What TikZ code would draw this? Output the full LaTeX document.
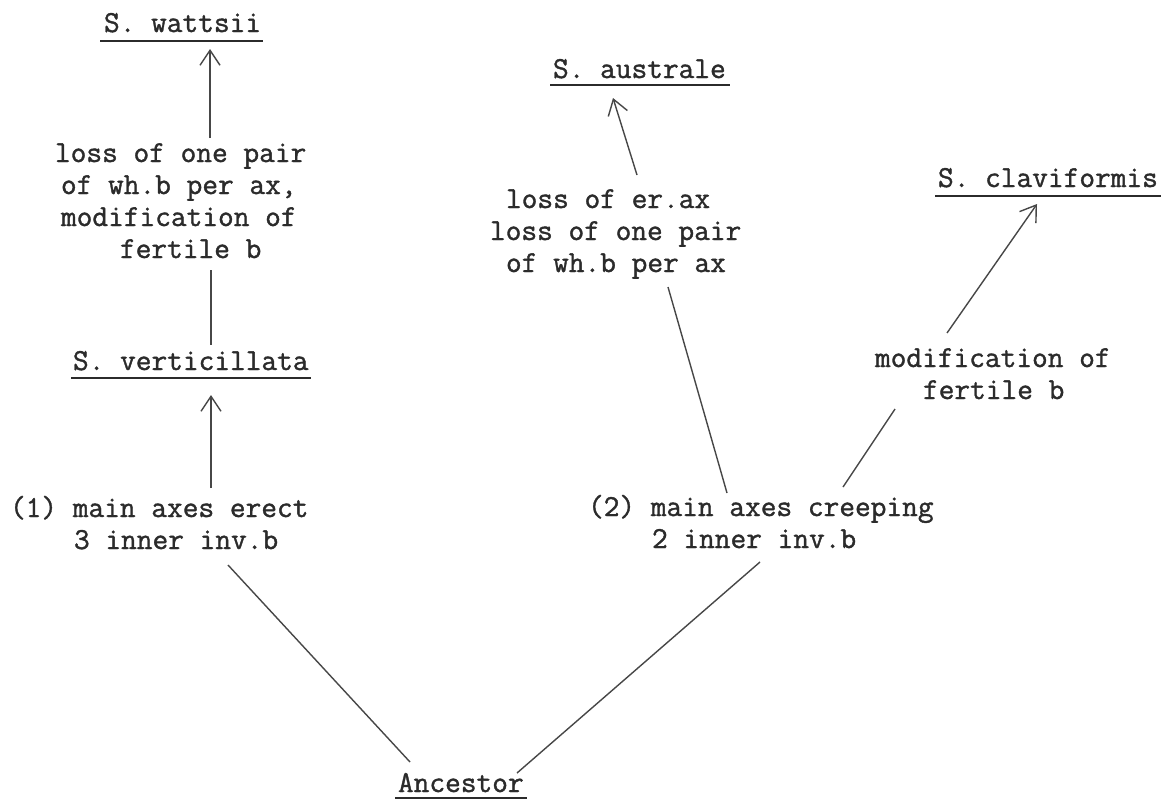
\documentclass[tikz,border=0pt]{standalone}
\usepackage{fontspec}
\newfontfamily\typew{Latin Modern Mono}[FakeBold=1.2]
\usetikzlibrary{arrows.meta}
\definecolor{ink}{HTML}{2B2B2B}
\definecolor{pen}{HTML}{474747}
\newcommand\tstrut{\rule{0pt}{24pt}}
\begin{document}
\begin{tikzpicture}[x=1pt,y=-1pt,
  txt/.style={inner sep=0pt, outer sep=0pt, anchor=north west, align=left, text=ink,
    font=\fontsize{30.5}{32}\selectfont\typew},
  con/.style={draw=pen, line width=1.4pt},
  arr/.style={con, -{Straight Barb[length=15pt,width=20pt,line width=1.4pt]}},
  ul/.style={draw=ink, line width=2.6pt}]
\useasboundingbox[fill=white] (0,0) rectangle (1169,801);

% text nodes (top = baseline - 24)
\node[txt] (wat) at (104,8) {\tstrut S. wattsii};
\node[txt] (lossA) at (55,138) {\tstrut loss of one pair\\\hspace*{6pt}of wh.b per ax,\\\hspace*{6pt}modification of\\\hspace*{65pt}fertile b};
\node[txt] (ver) at (73,346) {\tstrut S. verticillata};
\node[txt] (one) at (10,493) {\tstrut (1) main axes erect\\\hspace*{64pt}3 inner inv.b};
\node[txt] (anc) at (398,768) {\tstrut Ancestor};
\node[txt] (two) at (588,492) {\tstrut (2) main axes creeping\\\hspace*{64pt}2 inner inv.b};
\node[txt] (lossB) at (490,184) {\tstrut\hspace*{16pt}loss of er.ax\\loss of one pair\\\hspace*{16pt}of wh.b per ax};
\node[txt] (aus) at (553,54) {\tstrut S. australe};
\node[txt] (cla) at (938,163) {\tstrut S. claviformis};
\node[txt] (mod) at (875,343) {\tstrut modification of\\\hspace*{48pt}fertile b};

% underlines
\draw[ul] ([xshift=-4pt,yshift=-9pt]wat.base west) -- ([xshift=2pt,yshift=-9pt]wat.base east);
\draw[ul] ([xshift=-2pt,yshift=-8pt]ver.base west) -- ([xshift=2pt,yshift=-8pt]ver.base east);
\draw[ul] ([xshift=-3pt,yshift=-7pt]aus.base west) -- ([xshift=4pt,yshift=-7pt]aus.base east);
\draw[ul] ([xshift=-3pt,yshift=-9pt]cla.base west) -- ([xshift=3pt,yshift=-9pt]cla.base east);
\draw[ul] ([xshift=-3pt,yshift=-6pt]anc.base west) -- ([xshift=3pt,yshift=-6pt]anc.base east);

% connector end points
\coordinate (lossA-top) at (210,138);
\coordinate (wat-foot) at (210,49);
\coordinate (lossA-foot) at (211,270);
\coordinate (ver-top) at (211,345);
\coordinate (one-top) at (211,488);
\coordinate (ver-foot) at (211,395);
\coordinate (one-foot) at (228,565);
\coordinate (anc-left) at (410,762);
\coordinate (anc-right) at (517,773);
\coordinate (two-foot) at (760,562);
\coordinate (two-top) at (727,493);
\coordinate (lossB-foot) at (668,287);
\coordinate (lossB-top) at (637,175);
\coordinate (aus-foot) at (613,98);
\coordinate (two-topr) at (843,487);
\coordinate (mod-foot) at (895,409);
\coordinate (mod-top) at (947,333);
\coordinate (cla-foot) at (1037,204);

% connectors
\draw[arr] (lossA-top) -- (wat-foot);
\draw[con] (lossA-foot) -- (ver-top);
\draw[arr] (one-top) -- (ver-foot);
\draw[con] (one-foot) -- (anc-left);
\draw[con] (anc-right) -- (two-foot);
\draw[con] (two-top) -- (lossB-foot);
\draw[arr] (lossB-top) -- (aus-foot);
\draw[con] (two-topr) -- (mod-foot);
\draw[arr] (mod-top) -- (cla-foot);
\end{tikzpicture}
\end{document}
